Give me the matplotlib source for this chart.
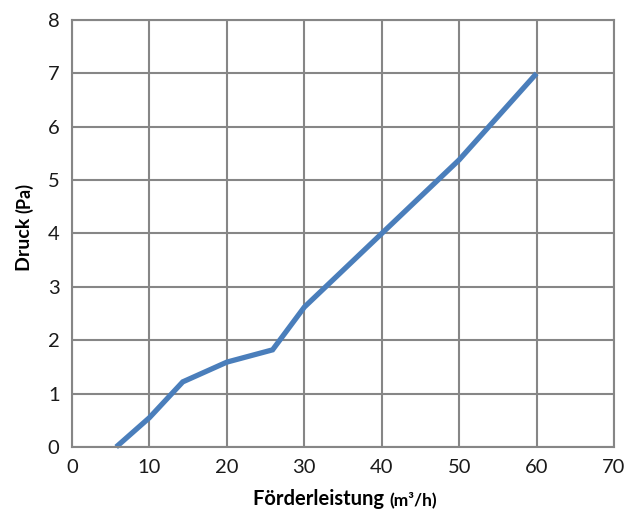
import matplotlib
matplotlib.use("Agg")
import matplotlib.pyplot as plt

flow = [5.7, 10, 14.3, 20, 25.9, 30, 40, 50, 60]
pressure = [0.0, 0.55, 1.22, 1.59, 1.82, 2.62, 4.0, 5.38, 7.0]
x_ticks = [0, 10, 20, 30, 40, 50, 60, 70]
y_ticks = [0, 1, 2, 3, 4, 5, 6, 7, 8]

plt.rcParams['font.family'] = ['Lato', 'DejaVu Sans']
fig = plt.figure(figsize=(6.32, 5.13), dpi=100)
ax = fig.add_axes([0.114, 0.1287, 0.8575, 0.8323])
grid_c = '#868686'
ax.set_xlim(0, 70)
ax.set_ylim(0, 8)
ax.set_xticks(x_ticks)
ax.set_yticks(y_ticks)
ax.grid(True, color=grid_c, linewidth=1.5)
ax.set_axisbelow(True)
for s in ax.spines.values():
    s.set_color(grid_c)
    s.set_linewidth(1.5)
ax.tick_params(length=0, labelsize=14.5, colors='#1a1a1a', pad=9)
ax.plot(flow, pressure, color='#4A7EBB', linewidth=3.8, solid_capstyle='butt',
        solid_joinstyle='miter', clip_on=False)

# Two-part axis labels (main bold larger, unit smaller)
fig.canvas.draw()
r = fig.canvas.get_renderer()
W, H = fig.bbox.width, fig.bbox.height

# x label
t1 = fig.text(0, 0, 'Förderleistung ', fontsize=14.5, fontweight='bold', va='baseline')
t2 = fig.text(0, 0, '(m³/h)', fontsize=12.5, fontweight='bold', va='baseline')
w1 = t1.get_window_extent(r).width
w2 = t2.get_window_extent(r).width
cx, by = 345.0, 513 - 505.0
x0 = cx - (w1 + w2) / 2
t1.set_position((x0 / W, by / H))
t2.set_position(((x0 + w1) / W, by / H))

# y label
u1 = fig.text(0, 0, 'Druck ', fontsize=14, fontweight='bold', va='baseline', rotation=90, rotation_mode='anchor')
u2 = fig.text(0, 0, '(Pa)', fontsize=13, fontweight='bold', va='baseline', rotation=90, rotation_mode='anchor')
h1 = u1.get_window_extent(r).height
h2 = u2.get_window_extent(r).height
cy = 513 - 227.0
bx = 30.0
y0 = cy - (h1 + h2) / 2
u1.set_position((bx / W, y0 / H))
u2.set_position((bx / W, (y0 + h1) / H))

fig.savefig('out.png', dpi=100)
